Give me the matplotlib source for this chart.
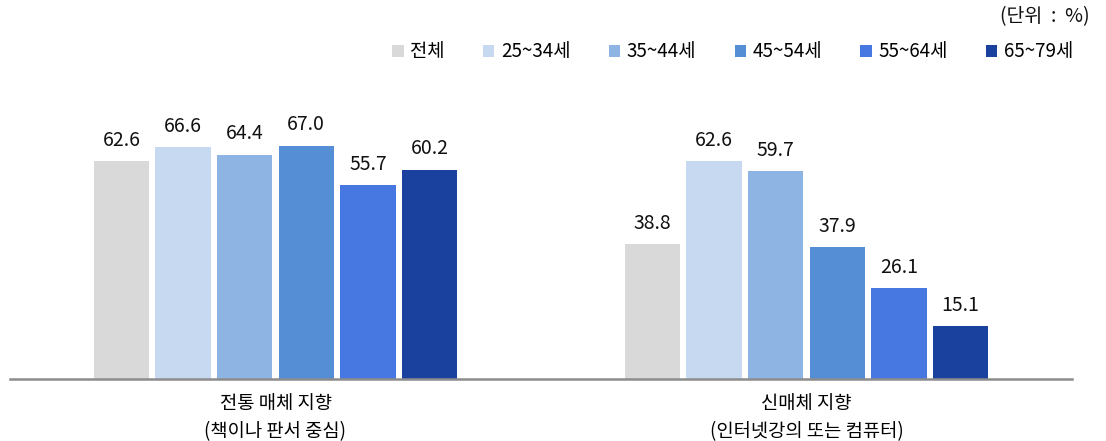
import numpy as np
import matplotlib.pyplot as plt

plt.rcParams['font.family'] = ['Noto Sans CJK KR', 'DejaVu Sans']

categories = ['전통 매체 지향\n(책이나 판서 중심)', '신매체 지향\n(인터넷강의 또는 컴퓨터)']
series = ['전체', '25~34세', '35~44세', '45~54세', '55~64세', '65~79세']
values = [
    [62.6, 38.8],
    [66.6, 62.6],
    [64.4, 59.7],
    [67.0, 37.9],
    [55.7, 26.1],
    [60.2, 15.1],
]
colors = ['#d9d9d9', '#c6d9f1', '#8eb4e3', '#558ed5', '#4778e1', '#1b419f']

fig = plt.figure(figsize=(11.06, 4.41), dpi=100)
ax = fig.add_axes([10 / 1106, 62 / 441, 1062 / 1106, 278.4 / 441])

x = np.arange(len(categories))
slot = 0.116
width = 0.104
for i, (name, vals, c) in enumerate(zip(series, values, colors)):
    pos = x + (i - 2.5) * slot
    bars = ax.bar(pos, vals, width, color=c, label=name, zorder=2)
    for b, v in zip(bars, vals):
        ax.text(b.get_x() + b.get_width() / 2, v + 3.0, f'{v:.1f}',
                ha='center', va='bottom', fontsize=14, color='#111111')

ax.set_xlim(-0.5, 1.5)
ax.set_ylim(0, 80)
ax.set_xticks(x)
ax.set_xticklabels(categories, fontsize=13.5, linespacing=1.45)
ax.tick_params(axis='x', length=0, pad=10)
ax.set_yticks([])
for s in ['top', 'right', 'left']:
    ax.spines[s].set_visible(False)
ax.spines['bottom'].set_color('#8c8c8c')
ax.spines['bottom'].set_linewidth(1.8)

fig.legend(loc='center right', bbox_to_anchor=(1090 / 1106, 1 - 52 / 441),
           ncol=6, frameon=False, fontsize=13.5, handlelength=0.6,
           handleheight=0.6, handletextpad=0.35, columnspacing=2.05)

fig.text(1090 / 1106, 1 - 17 / 441, '(단위  :  %)', ha='right', va='center',
         fontsize=14, color='#111111')

fig.savefig('out.png', dpi=100)
